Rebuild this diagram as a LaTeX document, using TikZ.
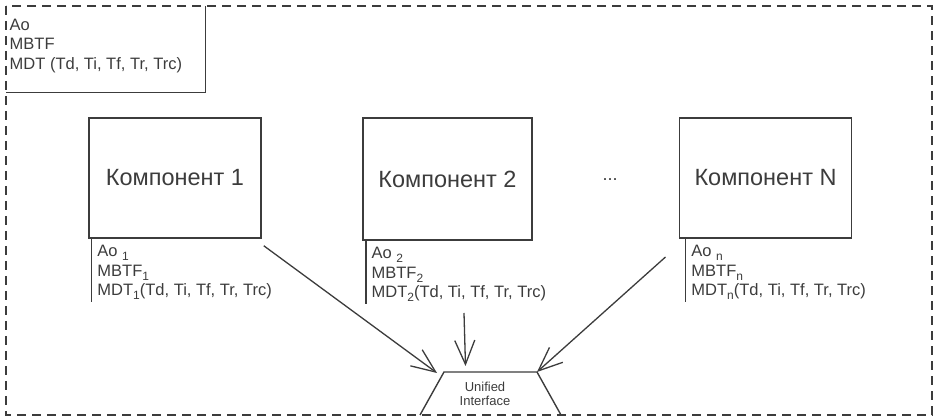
\documentclass[tikz,border=0pt]{standalone}
\usepackage{fontspec}
\setmainfont{Liberation Sans}
\usetikzlibrary{arrows.meta}
\definecolor{ink}{HTML}{3C3C3C}
\newcommand{\lowidx}[1]{\raisebox{-0.45ex}{\fontsize{12}{12}\selectfont #1}}

\begin{document}
\begin{tikzpicture}[x=1pt, y=-1pt, line width=1.4pt, color=ink,
  comp/.style={draw, line width=1.5pt, minimum width=172pt, minimum height=120pt,
    font=\fontsize{23.5}{26}\selectfont},
  params/.style={anchor=north west, align=left, inner xsep=5pt, inner ysep=2pt,
    font=\fontsize{16.5}{19.5}\selectfont},
  link/.style={-{Straight Barb[length=24pt, width=20pt]}, line width=1.3pt}]

\useasboundingbox (0,0) rectangle (935,419);

% Outer dashed frame around the whole system
\draw[dash pattern=on 9pt off 6pt, line width=1.5pt] (6,6) rectangle (932,415);

% System parameters in the upper left corner
\node (sys) [anchor=north west, minimum width=198pt, minimum height=85pt, inner sep=0] at (6,6) {};
\draw (sys.north east) -- (sys.south east) -- (sys.south west);
\node (systext) [params, inner xsep=3pt] at (6,16) {Ao\\MBTF\\MDT (Td, Ti, Tf, Tr, Trc)};

% The components
\node (comp1) [comp] at (175,178) {Компонент 1};
\node (comp2) [comp, minimum width=169pt, minimum height=122pt] at (447.5,179) {Компонент 2};
\node (compN) [comp] at (765.5,178) {Компонент N};
\node (dots) [font=\fontsize{18}{20}\selectfont] at (610,180) {...};

% Parameters of each component, with a bar on the left
\node (par1) [params] at ([shift={(3.5,4)}]comp1.south west)
  {Ao \lowidx{1}\\MBTF\lowidx{1}\\MDT\lowidx{1}(Td, Ti, Tf, Tr, Trc)};
\node (par2) [params] at ([shift={(3.7,4)}]comp2.south west)
  {Ao \lowidx{2}\\MBTF\lowidx{2}\\MDT\lowidx{2}(Td, Ti, Tf, Tr, Trc)};
\node (parN) [params] at ([shift={(7,4)}]compN.south west)
  {Ao \lowidx{n}\\MBTF\lowidx{n}\\MDT\lowidx{n}(Td, Ti, Tf, Tr, Trc)};

\foreach \p\c in {par1/comp1, par2/comp2, parN/compN} {
  \draw (\c.south -| \p.west) -- (\p.south west);
}

% Unified interface, open at the bottom
\coordinate (ifBL) at (420,415);
\coordinate (ifTL) at (444,372);
\coordinate (ifTR) at (537,372);
\coordinate (ifBR) at (561,415);
\draw (ifBL) -- (ifTL) -- (ifTR) -- (ifBR);
\node (unified) [align=center, font=\fontsize{13}{14.5}\selectfont] at (485,394) {Unified\\Interface};

% Arrows into the interface
\coordinate (in1) at (437,373);
\coordinate (in2) at (465.5,366);
\coordinate (from2) at (464,313);
\coordinate (fromN) at (665.5,257);

\draw[link] ([shift={(2,7)}]comp1.south east) -- (in1);
\draw[link] (from2) -- (in2);
\draw[link] (fromN) -- (ifTR);

\end{tikzpicture}
\end{document}
